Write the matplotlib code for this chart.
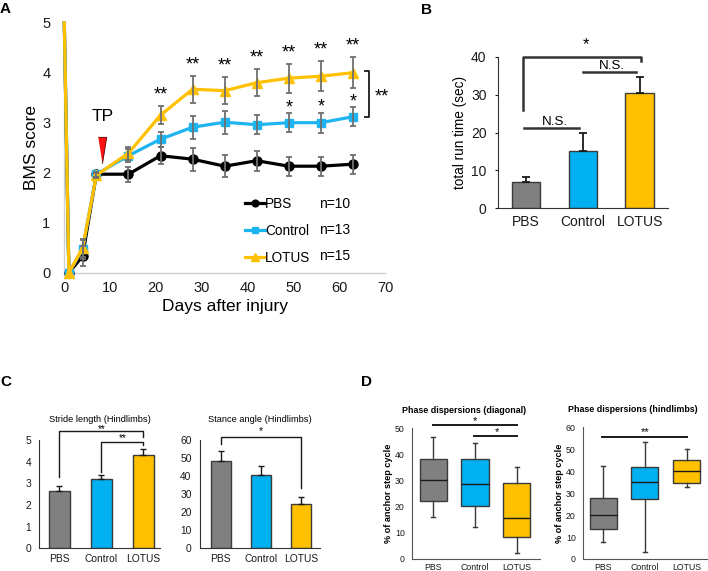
import matplotlib
matplotlib.use('Agg')
import matplotlib.pyplot as plt
import numpy as np

plt.rcParams['font.family'] = ['Liberation Sans', 'DejaVu Sans']

# ---------------- Panel A data ----------------
days = [0, 1, 4, 7, 14, 21, 28, 35, 42, 49, 56, 63]
bms_pbs = [5, 0, 0.33, 1.97, 1.97, 2.34, 2.27, 2.13, 2.24, 2.13, 2.13, 2.17]
bms_pbs_err = [0, 0, 0.2, 0.05, 0.15, 0.17, 0.23, 0.22, 0.2, 0.19, 0.19, 0.19]
bms_ctrl = [5, 0, 0.47, 1.97, 2.34, 2.67, 2.91, 3.01, 2.96, 3.0, 3.0, 3.12]
bms_ctrl_err = [0, 0, 0.2, 0.05, 0.13, 0.15, 0.23, 0.23, 0.19, 0.19, 0.2, 0.19]
bms_lotus = [5, 0, 0.49, 1.95, 2.39, 3.15, 3.67, 3.64, 3.8, 3.89, 3.93, 4.0]
bms_lotus_err = [0, 0, 0.17, 0.05, 0.13, 0.18, 0.27, 0.27, 0.27, 0.29, 0.3, 0.31]
group_names = ['PBS', 'Control', 'LOTUS']
group_n = ['n=10', 'n=13', 'n=15']
lotus_sig_days = [21, 28, 35, 42, 49, 56, 63]
ctrl_sig_days = [49, 56, 63]
tp_day = 8.3

# ---------------- Panel B data ----------------
runtime = [6.9, 15.2, 30.3]
runtime_err = [1.3, 4.6, 4.4]

# ---------------- Panel C data ----------------
stride = [2.65, 3.18, 4.31]
stride_err = [0.23, 0.2, 0.26]
stance = [48.6, 40.8, 24.4]
stance_err = [5.3, 4.8, 3.8]

# ---------------- Panel D data ----------------
diag_whislo = [16.2, 12.1, 2.2]
diag_q1 = [22.1, 20.3, 8.4]
diag_med = [30.1, 28.6, 15.6]
diag_q3 = [38.3, 38.3, 29.0]
diag_whishi = [46.6, 44.3, 35.3]
hind_whislo = [7.9, 3.0, 32.7]
hind_q1 = [13.7, 27.3, 34.5]
hind_med = [20.1, 35.2, 40.0]
hind_q3 = [27.8, 41.8, 45.1]
hind_whishi = [42.5, 53.2, 50.1]

bar_colors = ['#808080', '#00B0F0', '#FFC000']
line_colors = ['#000000', '#1DB4EF', '#FFC000']
markers = ['o', 's', '^']
msizes = [6.5, 6, 7.5]
edge = '#3a3a3a'

W, H = 708, 571
fig = plt.figure(figsize=(W / 100, H / 100), dpi=100)


def px_axes(l, t, r, b):
    return fig.add_axes([l / W, 1 - b / H, (r - l) / W, (b - t) / H])


# ================= Panel A =================
axA = px_axes(64.3, 22.7, 385, 272.7)
series = [(bms_pbs, bms_pbs_err), (bms_ctrl, bms_ctrl_err), (bms_lotus, bms_lotus_err)]
handles = []
for i, (vals, errs) in enumerate(series):
    h, = axA.plot(days, vals, color=line_colors[i], lw=2.3, marker=markers[i],
                  ms=msizes[i], mfc=line_colors[i], mec=line_colors[i],
                  markevery=list(range(1, len(days))),
                  clip_on=False, zorder=3 + i, label=group_names[i])
    handles.append(h)
    axA.errorbar(days[2:], vals[2:], yerr=errs[2:], fmt='none', ecolor='#707070',
                 elinewidth=1.3, capsize=2.5, capthick=1.3, zorder=7, clip_on=False)
axA.set_xlim(0, 70)
axA.set_ylim(0, 5)
axA.set_xticks(range(0, 71, 10))
axA.set_yticks(range(0, 6))
for s in ['top', 'right']:
    axA.spines[s].set_visible(False)
for s in ['left', 'bottom']:
    axA.spines[s].set_color('#cfcfcf')
    axA.spines[s].set_linewidth(1.0)
axA.tick_params(axis='both', length=0, labelsize=10.5, colors='#1a1a1a')
axA.tick_params(axis='y', pad=10)
axA.tick_params(axis='x', pad=6)
axA.set_xlabel('Days after injury', fontsize=12.5, labelpad=3)
axA.set_ylabel('BMS score', fontsize=12.5, labelpad=2)

for d in lotus_sig_days:
    k = days.index(d)
    axA.text(d, bms_lotus[k] + bms_lotus_err[k] + 0.13, '**', ha='center',
             va='baseline', fontsize=13)
for d in ctrl_sig_days:
    k = days.index(d)
    axA.text(d, bms_ctrl[k] + bms_ctrl_err[k] + 0.02, '*', ha='center',
             va='baseline', fontsize=13)
# bracket LOTUS vs Control at day 63
axA.plot([65.7, 66.6, 66.6, 65.7], [bms_lotus[-1] + 0.04, bms_lotus[-1] + 0.04,
                                     bms_ctrl[-1], bms_ctrl[-1]],
         color='#1a1a1a', lw=1.3, clip_on=False)
axA.text(69.2, 3.42, '**', ha='center', va='baseline', fontsize=13)
# TP marker
axA.text(tp_day, 3.12, 'TP', ha='center', va='center', fontsize=12.5)
axA.plot([tp_day], [2.46], marker=[(-0.32, 1), (0.32, 1), (0, -1)], ms=19,
         color='#ff1010', mec='#5a0000', mew=0.6, ls='none', clip_on=False)

leg = axA.legend(handles=handles, loc='upper left', bbox_to_anchor=(0.563, 0.304),
                 frameon=False, fontsize=9.8, handlelength=1.45, handletextpad=0.05,
                 borderpad=0, borderaxespad=0, labelspacing=0.95, markerscale=0.75)
n_y = [1.37, 0.85, 0.34]
for i in range(3):
    axA.text(55.6, n_y[i], group_n[i], ha='left', va='center', fontsize=10)

# ================= Panel B =================
axB = px_axes(497.7, 56.7, 668, 208.3)
xb = np.arange(3)
axB.bar(xb, runtime, width=0.5, color=bar_colors, edgecolor=edge, lw=1.0, zorder=2)
axB.errorbar(xb, runtime, yerr=[[0, 0, 0], runtime_err], fmt='none', ecolor='#1a1a1a',
             elinewidth=1.3, capsize=3, capthick=1.3, zorder=3)
axB.set_xlim(-0.5, 2.5)
axB.set_ylim(0, 40)
axB.set_yticks(range(0, 41, 10))
axB.set_xticks(xb)
axB.set_xticklabels(group_names)
for s in ['top', 'right']:
    axB.spines[s].set_visible(False)
for s in ['left', 'bottom']:
    axB.spines[s].set_color('#333333')
axB.tick_params(axis='both', labelsize=10, length=2, colors='#1a1a1a')
axB.tick_params(axis='x', length=0, pad=5)
axB.tick_params(axis='y', pad=6)
axB.set_ylabel('total run time (sec)', fontsize=9.8, labelpad=3)
bk = dict(color='#333333', lw=1.8, clip_on=False)
axB.plot([-0.05, -0.05, 2.02, 2.02], [26, 40, 40, 38.9], **bk)
axB.text(1.05, 42.0, '*', ha='center', va='baseline', fontsize=12)
axB.plot([-0.03, 0.94], [21.3, 21.3], **bk)
axB.text(0.5, 22.0, 'N.S.', ha='center', va='baseline', fontsize=9.6)
axB.plot([1.01, 1.93], [36.0, 36.0], **bk)
axB.text(1.52, 36.7, 'N.S.', ha='center', va='baseline', fontsize=9.6)

# ================= Panel C =================
def small_bar(ax, vals, errs, ymax, ystep, title):
    x = np.arange(3)
    ax.bar(x, vals, width=0.49, color=bar_colors, edgecolor=edge, lw=1.0, zorder=2)
    ax.errorbar(x, vals, yerr=[[0, 0, 0], errs], fmt='none', ecolor='#1a1a1a',
                elinewidth=1.0, capsize=2, capthick=1.0, zorder=3)
    ax.set_ylim(0, ymax)
    ax.set_yticks(np.arange(0, ymax + 0.1, ystep))
    ax.set_xticks(x)
    ax.set_xticklabels(group_names)
    for s in ['top', 'right']:
        ax.spines[s].set_visible(False)
    for s in ['left', 'bottom']:
        ax.spines[s].set_color('#333333')
        ax.spines[s].set_linewidth(0.8)
    ax.tick_params(axis='both', labelsize=7.4, length=0, colors='#1a1a1a')
    ax.tick_params(axis='y', pad=6)
    ax.tick_params(axis='x', pad=4)
    ax.set_title(title, fontsize=6.7, pad=13)


axC1 = px_axes(39.3, 440, 160, 548.3)
small_bar(axC1, stride, stride_err, 5, 1, 'Stride length (Hindlimbs)')
axC1.set_xlim(-0.48, 2.4)
ck = dict(color='#1a1a1a', lw=1.0, clip_on=False)
axC1.plot([0, 0, 2, 2], [3.28, 5.41, 5.41, 5.12], **ck)
axC1.text(1.0, 5.36, '**', ha='center', va='baseline', fontsize=7)
axC1.plot([1, 1, 2, 2], [3.54, 4.92, 4.92, 4.77], **ck)
axC1.text(1.5, 4.93, '**', ha='center', va='baseline', fontsize=7)

axC2 = px_axes(200, 440, 320, 548.3)
small_bar(axC2, stance, stance_err, 60, 10, 'Stance angle (Hindlimbs)')
axC2.set_xlim(-0.52, 2.47)
axC2.plot([0, 0, 2, 2], [57.8, 61.8, 61.8, 33.2], **ck)
axC2.text(1.0, 63.2, '*', ha='center', va='baseline', fontsize=7.5)

# ================= Panel D =================
def box_panel(ax, lo, q1, med, q3, hi, ymax, title, title_x):
    stats = []
    for i in range(3):
        stats.append(dict(whislo=lo[i], q1=q1[i], med=med[i], q3=q3[i],
                          whishi=hi[i], fliers=[], label=group_names[i]))
    bp = ax.bxp(stats, positions=range(3), widths=0.65, patch_artist=True,
                showfliers=False, capwidths=0.1,
                boxprops=dict(edgecolor='#3a3a3a', lw=1.0),
                medianprops=dict(color='#1a1a1a', lw=1.0),
                whiskerprops=dict(color='#3a3a3a', lw=1.0),
                capprops=dict(color='#3a3a3a', lw=1.0))
    for p, c in zip(bp['boxes'], bar_colors):
        p.set_facecolor(c)
    ax.set_ylim(0, ymax)
    ax.set_yticks(range(0, ymax + 1, 10))
    for s in ['top', 'right']:
        ax.spines[s].set_visible(False)
    for s in ['left', 'bottom']:
        ax.spines[s].set_color('#555555')
        ax.spines[s].set_linewidth(0.8)
    ax.tick_params(axis='both', labelsize=6.3, length=0, colors='#1a1a1a')
    ax.tick_params(axis='y', pad=5)
    ax.tick_params(axis='x', pad=3)
    ax.set_ylabel('% of anchor step cycle', fontsize=6.6, fontweight='bold', labelpad=1)
    ax.set_title(title, fontsize=6.4, fontweight='bold', pad=11, x=title_x)


axD1 = px_axes(411.7, 428.3, 539.6, 559)
box_panel(axD1, diag_whislo, diag_q1, diag_med, diag_q3, diag_whishi, 50,
          'Phase dispersions (diagonal)', 0.41)
axD1.set_xlim(-0.52, 2.55)
dk = dict(color='#1a1a1a', lw=1.4, clip_on=False)
axD1.plot([0, 2], [51.2, 51.2], **dk)
axD1.text(1.0, 51.8, '*', ha='center', va='baseline', fontsize=8)
axD1.plot([0.98, 2], [47.1, 47.1], **dk)
axD1.text(1.52, 47.4, '*', ha='center', va='baseline', fontsize=8)

axD2 = px_axes(582.7, 427.3, 707.5, 559)
box_panel(axD2, hind_whislo, hind_q1, hind_med, hind_q3, hind_whishi, 60,
          'Phase dispersions (hindlimbs)', 0.40)
axD2.set_xlim(-0.49, 2.5)
axD2.plot([-0.03, 2], [55.7, 55.7], **dk)
axD2.text(1.0, 56.6, '**', ha='center', va='baseline', fontsize=8)

# Panel letters
for lab, (x, y) in {'A': (5.5, 9), 'B': (427, 10), 'C': (6, 381.7), 'D': (366.7, 381.7)}.items():
    fig.text(x / W, 1 - y / H, lab, fontsize=11, fontweight='bold', ha='center', va='center')

fig.savefig('out.png', dpi=100)
